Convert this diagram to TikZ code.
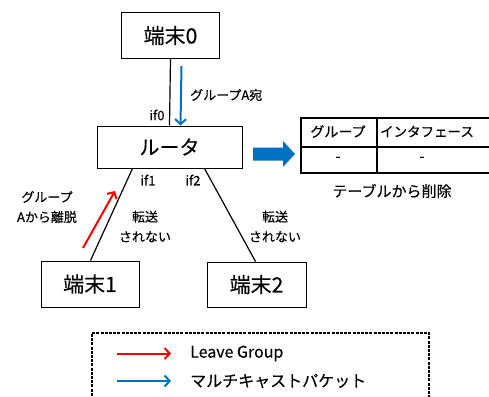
\documentclass[tikz,border=0pt]{standalone}
\usepackage{fontspec}
\setmainfont{Noto Sans CJK JP}[FakeBold=0.3]
\usetikzlibrary{arrows.meta}
\definecolor{mblue}{HTML}{0070C0}
\definecolor{mred}{HTML}{FF0000}
\tikzset{
  term/.style={draw, line width=1pt, minimum width=98pt, minimum height=46pt, inner sep=0pt, font=\fontsize{21}{24}\selectfont},
  lbl/.style={inner sep=0pt, font=\fontsize{13}{20}\selectfont, align=center},
  cell/.style={draw, line width=1.8pt, inner sep=0pt, anchor=north west},
  link/.style={line width=1.2pt},
  arr/.style={line width=2pt, -{Straight Barb[length=5pt,width=11pt]}},
}
\begin{document}
\begin{tikzpicture}[x=1pt,y=-1pt]
\useasboundingbox (0,0) rectangle (489,396);
\clip (0,0) rectangle (489,396);
% nodes
\node[term] (t0) at (170.5,35.5) {端末0};
\node[term, minimum width=145pt, minimum height=42pt, font=\fontsize{20}{24}\selectfont] (r) at (169.5,147) {ルータ};
\node[term] (t1) at (90,284) {端末1};
\node[term, minimum width=99pt, minimum height=45pt] (t2) at (256.5,284.5) {端末2};
% links
\draw[link] (t0.south) -- (r.north);
\draw[link] ([xshift=36pt]r.south west) -- ([xshift=50pt]t1.north west);
\draw[link] ([xshift=108pt]r.south west) -- ([xshift=49pt]t2.north west);
% multicast arrow
\draw[arr, mblue] ([xshift=11pt, yshift=-7pt]t0.south) -- ([xshift=11pt]r.north);
% leave arrow
\coordinate (la) at (83,248);
\coordinate (lb) at (115,191);
\draw[arr, mred] (la) -- (lb);
% labels
\node[lbl, anchor=west] (lA) at (190,95) {グループA宛};
\node[lbl] (if0) at (157,115) {if0};
\node[lbl] (if1) at (148,180) {if1};
\node[lbl] (if2) at (193,180) {if2};
\node[lbl] (leave) at (47,207) {グループ\\Aから離脱};
\node[lbl] (no1) at (145,226.5) {転送\\されない};
\node[lbl] (no2) at (275,226.5) {転送\\されない};
% big arrow
\fill[mblue] (253,147.5) -- (283,147.5) -- (283,141) -- (295,154) -- (283,167) -- (283,160.5) -- (253,160.5) -- cycle;
% table
\node[cell, minimum width=76pt, minimum height=29pt] (c11) at (300,117) {};
\node[cell, minimum width=116pt, minimum height=29pt] (c12) at (376,117) {};
\node[cell, minimum width=76pt, minimum height=26pt] (c21) at (300,146) {};
\node[cell, minimum width=116pt, minimum height=26pt] (c22) at (376,146) {};
\node[lbl, font=\fontsize{14}{16}\selectfont] (h1) at (338,131.5) {グループ};
\node[lbl, font=\fontsize{13.5}{16}\selectfont] (h2) at (427,131.5) {インタフェース};
\node[lbl, font=\fontsize{14}{16}\selectfont] (d1) at (338,159) {-};
\node[lbl, font=\fontsize{14}{16}\selectfont] (d2) at (422,159) {-};
\node[lbl, font=\fontsize{15}{18}\selectfont] (del) at (392,191) {テーブルから削除};
% legend
\draw[line width=1.6pt, dash pattern=on 3pt off 1.2pt] (92,400) -- (92,333) -- (429,333) -- (429,400);
\coordinate (ra) at (117,353.5);
\coordinate (rb) at (171,353.5);
\coordinate (ba) at (117,381);
\coordinate (bb) at (171,381);
\draw[arr, mred] (ra) -- (rb);
\draw[arr, mblue] (ba) -- (bb);
\node[lbl, anchor=west, font=\fontsize{16}{18}\selectfont] (lg1) at (190,353.5) {Leave Group};
\node[lbl, anchor=west, font=\fontsize{16}{18}\selectfont] (lg2) at (190,381) {マルチキャストパケット};
\end{tikzpicture}
\end{document}
